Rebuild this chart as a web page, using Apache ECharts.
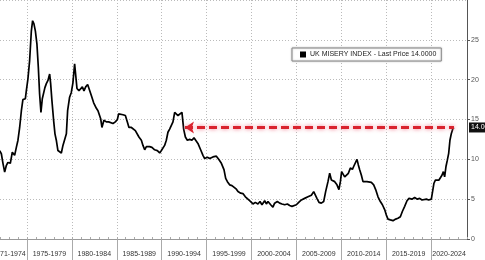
<!DOCTYPE html>
<html><head><meta charset="utf-8">
<script src="https://cdn.jsdelivr.net/npm/echarts@6/dist/echarts.min.js"></script>
<style>html,body{margin:0;padding:0;background:#fff}#c{width:485px;height:260px}</style>
</head><body><div id="c"></div>
<script>
const seriesName = 'UK MISERY INDEX';
const years = [
1971.96,1972.15,1972.33,1972.52,1972.71,1972.88,1973.15,1973.37,1973.63,1973.82,
1974.0,1974.19,1974.38,1974.55,1974.82,1974.93,1975.11,1975.30,1975.49,1975.63,
1975.78,1975.94,1976.11,1976.27,1976.41,1976.56,1976.71,1976.86,1977.0,1977.16,
1977.34,1977.53,1977.64,1977.78,1977.97,1978.12,1978.27,1978.45,1978.64,1978.83,
1979.01,1979.23,1979.39,1979.53,1979.75,1979.94,1980.12,1980.31,1980.42,1980.57,
1980.79,1980.98,1981.17,1981.35,1981.54,1981.76,1981.98,1982.17,1982.43,1982.73,
1982.91,1983.21,1983.35,1983.57,1983.84,1984.10,1984.32,1984.58,1984.84,1985.07,
1985.21,1985.43,1985.69,1985.96,1986.18,1986.36,1986.63,1986.85,1987.07,1987.29,
1987.47,1987.74,1987.92,1988.11,1988.30,1988.47,1988.66,1988.92,1989.22,1989.52,
1989.78,1989.97,1990.14,1990.33,1990.52,1990.70,1990.89,1991.08,1991.26,1991.45,
1991.64,1991.82,1992.0,1992.26,1992.45,1992.64,1992.86,1993.12,1993.37,1993.60,
1993.79,1994.04,1994.34,1994.60,1994.79,1995.09,1995.35,1995.71,1996.09,1996.35,
1996.65,1996.94,1997.13,1997.32,1997.57,1997.83,1998.05,1998.32,1998.50,1998.80,
1999.05,1999.32,1999.61,1999.91,2000.17,2000.43,2000.72,2000.95,2001.17,2001.47,
2001.66,2001.84,2002.14,2002.39,2002.58,2002.88,2003.14,2003.40,2003.70,2004.0,
2004.25,2004.51,2004.73,2005.0,2005.26,2005.56,2005.92,2006.29,2006.67,2006.78,
2006.93,2007.15,2007.29,2007.52,2007.78,2008.04,2008.26,2008.52,2008.71,2008.90,
2009.08,2009.27,2009.52,2009.74,2009.90,2010.04,2010.19,2010.38,2010.57,2010.79,
2011.01,2011.24,2011.38,2011.60,2011.75,2011.90,2012.05,2012.24,2012.42,2012.64,
2012.86,2013.08,2013.35,2013.61,2013.83,2014.09,2014.35,2014.58,2014.83,2015.02,
2015.20,2015.47,2015.76,2016.06,2016.31,2016.58,2016.80,2017.06,2017.32,2017.54,
2017.87,2018.17,2018.47,2018.73,2018.99,2019.21,2019.48,2019.73,2020.03,2020.21,
2020.32,2020.48,2020.66,2020.88,2021.07,2021.21,2021.37,2021.51,2021.66,2021.81,
2021.96,2022.10,2022.26,2022.44,2022.55
];
const values = [
11.1,10.7,9.5,8.4,9.25,9.6,9.5,10.9,10.5,11.5,
12.4,14.0,16.1,17.5,17.6,18.6,20.1,22.4,26.1,27.4,
27.0,26.1,24.5,21.5,18.2,15.9,17.6,17.8,19.0,19.5,
19.9,20.7,19.5,17.4,14.9,13.2,12.4,11.1,10.9,10.8,
11.75,12.0,13.2,16.1,17.8,18.4,19.6,22.0,22.0,18.9,
18.6,18.4,19.1,18.6,19.1,19.4,19.25,18.0,17.1,16.4,
16.1,15.1,14.0,14.9,14.7,14.7,14.9,14.5,14.7,15.0,
15.7,15.7,15.6,15.5,14.7,14.0,14.0,13.8,13.6,13.4,
12.8,12.4,11.75,11.2,11.6,11.5,11.6,11.5,11.2,11.1,
10.8,11.1,11.3,11.75,12.4,13.4,13.8,13.8,14.7,15.9,
16.1,15.5,15.7,15.9,13.8,12.8,12.4,12.5,12.4,12.7,
12.4,12.0,11.2,10.5,10.1,10.25,10.1,10.3,10.4,10.0,
9.5,8.7,7.6,7.2,6.8,6.7,6.5,6.25,5.95,5.75,
5.7,5.3,5.0,4.7,4.4,4.6,4.4,4.7,4.3,4.8,
4.4,4.7,4.3,4.0,4.5,4.7,4.5,4.4,4.3,4.4,
4.2,4.1,3.9,4.3,4.6,4.9,5.1,5.3,5.5,5.7,
5.95,5.75,5.1,4.6,4.5,4.7,5.95,7.2,8.25,7.4,
7.6,7.2,6.8,6.2,7.2,8.45,8.25,7.8,7.6,8.25,
8.9,8.75,9.1,9.3,10.0,9.3,8.7,8.0,7.2,7.4,
7.2,7.3,7.1,6.8,6.2,5.3,4.7,4.3,3.7,3.0,
2.5,2.4,2.3,2.5,2.6,2.8,3.45,4.1,4.8,5.1,
5.0,5.2,5.0,5.1,4.9,5.1,5.0,4.9,5.0,5.1,
7.0,7.4,7.2,7.4,7.3,8.0,8.45,7.8,9.1,9.9,
10.75,12.4,13.25,13.9,14.0
];
const periodStarts = [1971,1975,1980,1985,1990,1995,2000,2005,2010,2015,2020];
const periodLabels = ['1971-1974','1975-1979','1980-1984','1985-1989','1990-1994','1995-1999','2000-2004','2005-2009','2010-2014','2015-2019','2020-2024'];
const xMin = 1972, xMax = 2024;
const yMin = 0, yMax = 30, yStep = 5;
const arrowFromYear = 1992.6;

const lastYear = years[years.length - 1];
const lastVal = values[values.length - 1];
const points = years.map((y, i) => [y, values[i]]);
const boundaryTicks = periodStarts.filter(s => s > xMin);
const labelCenters = periodStarts.map((s, i) => {
  const e = i + 1 < periodStarts.length ? periodStarts[i + 1] : Math.min(s + 5, xMax);
  return (s + e) / 2;
});
const font = '"Liberation Sans", Arial, sans-serif';

const chart = echarts.init(document.getElementById('c'), null, {renderer: 'canvas'});
chart.setOption({
  animation: false,
  backgroundColor: '#fff',
  grid: {left: 0, right: 18, top: 0, bottom: 21, outerBoundsMode: 'none'},
  legend: {
    left: 292, top: 48,
    data: [{name: seriesName, icon: 'rect'}],
    itemWidth: 6, itemHeight: 6, itemGap: 4,
    padding: [3, 5, 3, 8],
    backgroundColor: '#fff', borderColor: '#8a8a8a', borderWidth: 1,
    shadowColor: 'rgba(0,0,0,0.25)', shadowBlur: 2,
    formatter: n => n + ' - Last Price ' + lastVal.toFixed(4),
    textStyle: {fontSize: 7, fontFamily: font, color: '#222', padding: [0, 0, 0, -1]}
  },
  xAxis: [{
    type: 'value', min: xMin, max: xMax,
    axisLine: {show: true, lineStyle: {color: '#999', width: 1}},
    axisTick: {show: true, customValues: boundaryTicks, length: 22, lineStyle: {color: '#aaa'}},
    splitLine: {show: true, lineStyle: {color: '#bbb', type: [1, 2], width: 1}},
    axisLabel: {
      show: true, customValues: labelCenters, margin: 12,
      fontSize: 7, fontFamily: font, color: '#333',
      formatter: v => {
        let best = 0;
        labelCenters.forEach((c, i) => { if (Math.abs(c - v) < Math.abs(labelCenters[best] - v)) best = i; });
        return periodLabels[best];
      }
    }
  }, {
    type: 'value', min: xMin, max: xMax, interval: 1, position: 'bottom',
    axisLine: {show: false},
    axisTick: {show: true, inside: true, length: 2, lineStyle: {color: '#aaa'}},
    axisLabel: {show: false}, splitLine: {show: false}
  }],
  yAxis: {
    type: 'value', position: 'right', min: yMin, max: yMax, interval: yStep,
    axisLine: {show: true, lineStyle: {color: '#555', width: 1}},
    axisTick: {show: true, length: 3, lineStyle: {color: '#555'}},
    splitLine: {show: true, lineStyle: {color: '#bbb', type: [1, 2], width: 1}},
    axisLabel: {margin: 4, fontSize: 7, fontFamily: font, color: '#555', showMaxLabel: false}
  },
  series: [{
    name: seriesName, type: 'line', data: points,
    showSymbol: false, symbol: 'none',
    lineStyle: {color: '#000', width: 1.7},
    itemStyle: {color: '#000'},
    z: 3,
    markLine: {
      silent: true, animation: false,
      symbol: ['none', 'none'],
      data: [
        [
          {coord: [arrowFromYear, lastVal], symbol: 'arrow', symbolSize: [9, 9],
           lineStyle: {color: '#d9232e', width: 3, type: [8, 4], shadowColor: 'rgba(240,110,130,0.9)', shadowBlur: 4},
           label: {show: false}},
          {coord: [lastYear, lastVal]}
        ],
        {yAxis: lastVal, lineStyle: {color: 'rgba(0,0,0,0)', width: 0},
         label: {show: true, position: 'end', distance: 2, formatter: () => lastVal.toFixed(2),
                 color: '#fff', backgroundColor: '#111', padding: [2, 2, 1, 2],
                 fontSize: 7, fontFamily: font}}
      ]
    }
  }]
});
</script></body></html>
